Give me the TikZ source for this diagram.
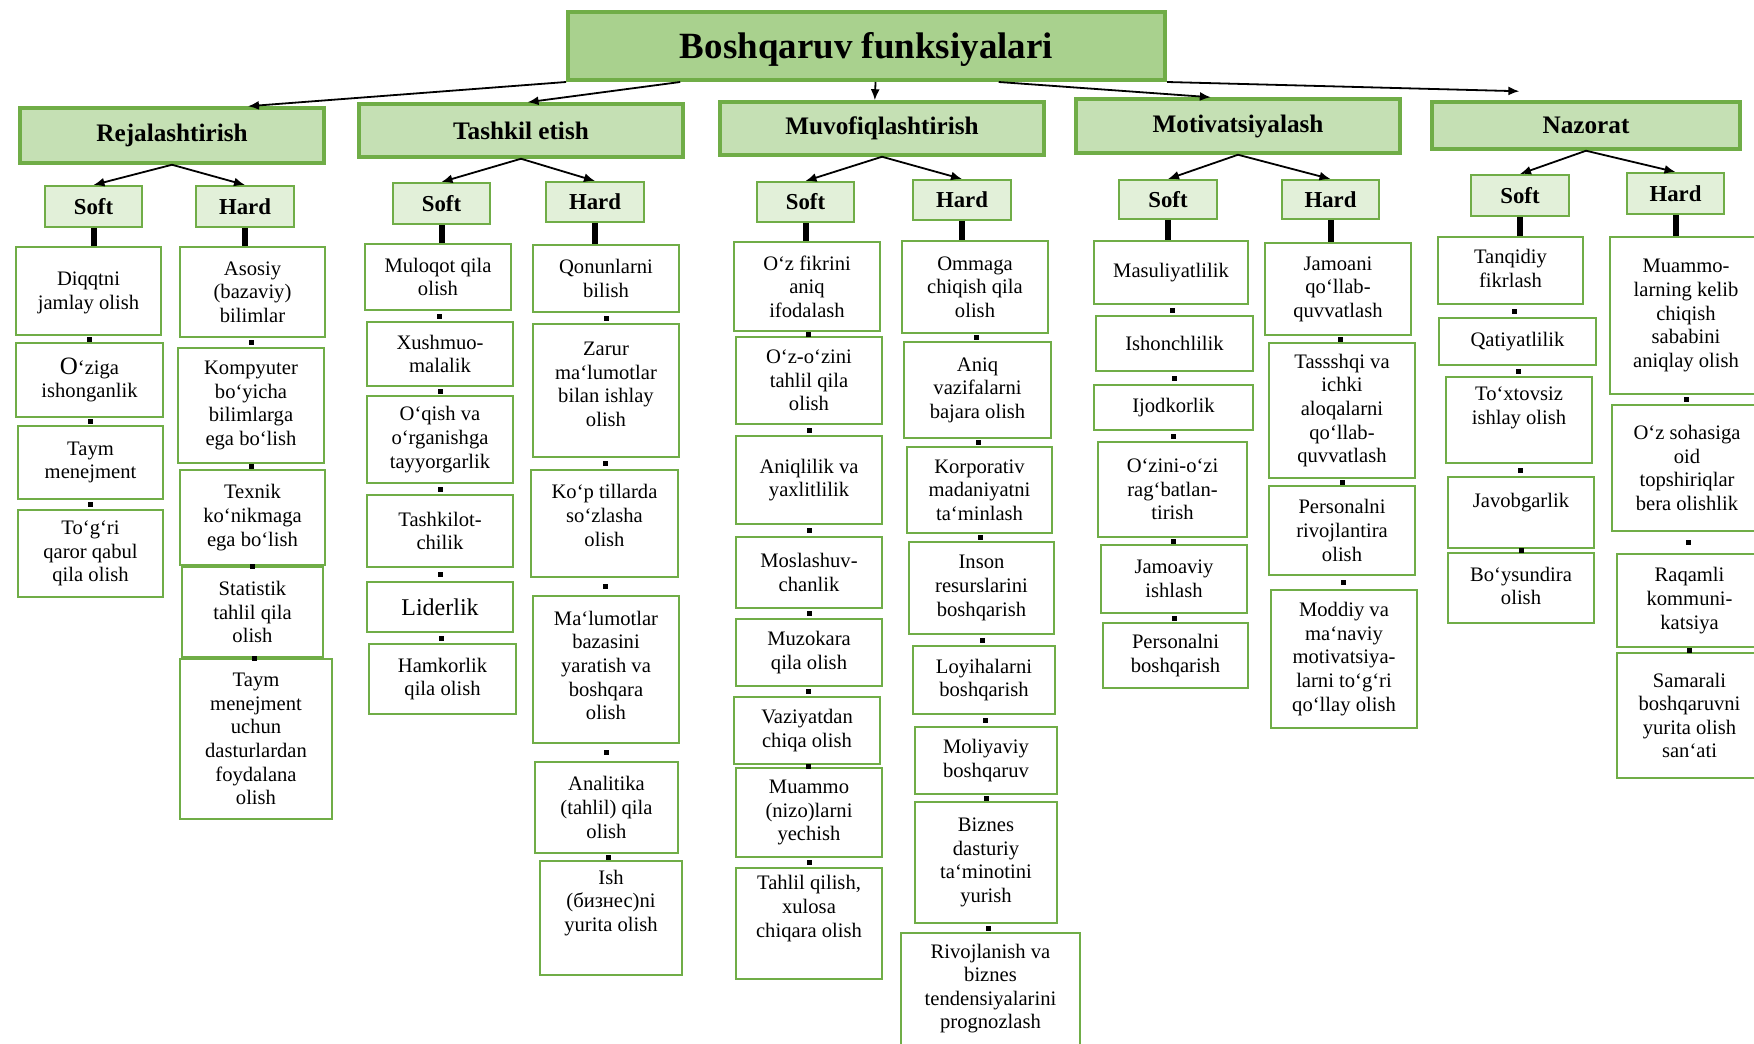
\documentclass[tikz,border=0pt]{standalone}
\usepackage{fontspec}
\setmainfont{Liberation Serif}
\usetikzlibrary{arrows.meta,calc}
\definecolor{gB}{HTML}{70AD47}
\definecolor{gT}{HTML}{A9D18E}
\definecolor{gH}{HTML}{C5E0B4}
\definecolor{gS}{HTML}{E2F0D9}
\tikzset{
 bodybox/.style={draw=gB, line width=1pt, fill=white, inner sep=0pt, rectangle},
 bodytxt/.style={align=center, inner sep=0pt, font=\fontsize{10.3}{11.8}\selectfont},
 headbox/.style={draw=gB, line width=1.75pt, fill=gH, inner sep=0pt, rectangle},
 headtxt/.style={align=center, inner sep=0pt, font=\fontsize{12.6}{14}\selectfont\bfseries},
 skbox/.style={draw=gB, line width=1pt, fill=gS, inner sep=0pt, rectangle},
 sktxt/.style={align=center, inner sep=0pt, font=\fontsize{11.4}{13}\selectfont\bfseries},
 titlebox/.style={draw=gB, line width=2pt, fill=gT, inner sep=0pt, rectangle},
 titletxt/.style={align=center, inner sep=0pt, font=\fontsize{18.5}{20}\selectfont\bfseries},
 arr/.style={-{Latex[length=5.5pt,width=4.5pt]}, line width=0.9pt, black},
 thk/.style={line width=3pt, black},
 sqr/.style={fill=black, minimum size=2.5pt, inner sep=0pt, rectangle},
}
% #1 style prefix, #2 name, #3 x1, #4 y1, #5 x2, #6 y2, #7 text, #8 text shift up (px)
\newcommand\bx[8]{%
 \node[#1box, minimum width={(#5-#3)*0.5pt}, minimum height={(#6-#4)*0.5pt}] (#2) at ({(#3+#5)/2},{(#4+#6)/2}) {};
 \node[#1txt] (#2-t) at ([yshift=#8*0.5pt]#2.center) {#7};
}
\newcommand\sq[2]{\path (#1.south) -- node[sqr] (#1-#2) {} (#2.north);}
\newcommand\thk[2]{\draw[thk] (#1.south) -- (#1.south |- #2.north);}
\begin{document}
\begin{tikzpicture}[x=0.5pt,y=-0.5pt]
\fill[white] (0,0) rectangle (1754,1043);
\useasboundingbox (0,0) rectangle (1754,1043);

% title and headings
\bx{title}{title}{568}{12}{1165}{80}{Boshqaruv funksiyalari}{-3}
\bx{head}{rej}{20}{108}{324}{163}{Rejalashtirish}{0}
\bx{head}{tash}{359}{104}{683}{157}{Tashkil etish}{0}
\bx{head}{muv}{720}{102}{1044}{155}{Muvofiqlashtirish}{0}
\bx{head}{mot}{1076}{99}{1400}{153}{Motivatsiyalash}{0}
\bx{head}{naz}{1432}{102}{1740}{149}{Nazorat}{0}

% soft / hard
\bx{sk}{rejS}{45}{186}{142}{227}{Soft}{0}
\bx{sk}{rejH}{196}{186}{294}{227}{Hard}{0}
\bx{sk}{tashS}{393}{183}{490}{224}{Soft}{0}
\bx{sk}{tashH}{546}{182}{644}{222}{Hard}{0}
\bx{sk}{muvS}{757}{182}{854}{222}{Soft}{0}
\bx{sk}{muvH}{913}{180}{1011}{220}{Hard}{0}
\bx{sk}{motS}{1119}{180}{1217}{219}{Soft}{0}
\bx{sk}{motH}{1282}{180}{1379}{219}{Hard}{0}
\bx{sk}{nazS}{1471}{175}{1569}{216}{Soft}{0}
\bx{sk}{nazH}{1627}{173}{1724}{214}{Hard}{0}

% Rejalashtirish - Soft
\bx{body}{rs1}{16}{247}{161}{335}{Diqqtni\\jamlay olish}{-2}
\bx{body}{rs2}{16}{343}{163}{417}{{\fontsize{12.5}{12}\selectfont O}‘ziga\\ishonganlik}{0}
\bx{body}{rs3}{18}{426}{163}{499}{Taym\\menejment}{0}
\bx{body}{rs4}{18}{510}{163}{597}{To‘g‘ri\\qaror qabul\\qila olish}{0}
% Rejalashtirish - Hard
\bx{body}{rh1}{180}{247}{325}{337}{Asosiy\\(bazaviy)\\bilimlar}{0}
\bx{body}{rh2}{178}{348}{324}{463}{Kompyuter\\bo‘yicha\\bilimlarga\\ega bo‘lish}{0}
\bx{body}{rh3}{180}{470}{325}{565}{Texnik\\ko‘nikmaga\\ega bo‘lish}{0}
\bx{body}{rh4}{182}{567}{323}{657}{Statistik\\tahlil qila\\olish}{0}
\bx{body}{rh5}{180}{659}{332}{819}{Taym\\menejment\\uchun\\dasturlardan\\foydalana\\olish}{0}

% Tashkil etish - Soft
\bx{body}{ts1}{365}{244}{511}{310}{Muloqot qila\\olish}{0}
\bx{body}{ts2}{367}{322}{513}{386}{Xushmuo-\\malalik}{0}
\bx{body}{ts3}{367}{396}{513}{483}{O‘qish va\\o‘rganishga\\tayyorgarlik}{0}
\bx{body}{ts4}{367}{495}{513}{567}{Tashkilot-\\chilik}{0}
\bx{body}{ts5}{367}{582}{513}{632}{{\fontsize{12}{13}\selectfont Liderlik}}{0}
\bx{body}{ts6}{369}{644}{516}{714}{Hamkorlik\\qila olish}{0}
% Tashkil etish - Hard
\bx{body}{th1}{533}{245}{679}{312}{Qonunlarni\\bilish}{0}
\bx{body}{th2}{533}{324}{679}{457}{Zarur\\ma‘lumotlar\\bilan ishlay\\olish}{6}
\bx{body}{th3}{531}{470}{678}{577}{Ko‘p tillarda\\so‘zlasha\\olish}{8}
\bx{body}{th4}{533}{596}{679}{743}{Ma‘lumotlar\\bazasini\\yaratish va\\boshqara\\olish}{4}
\bx{body}{th5}{535}{762}{678}{853}{Analitika\\(tahlil) qila\\olish}{0}
\bx{body}{th6}{540}{861}{682}{975}{Ish\\(бизнес)ni\\yurita olish}{15}

% Muvofiqlashtirish - Soft
\bx{body}{ms1}{734}{242}{880}{331}{O‘z fikrini\\aniq\\ifodalash}{0}
\bx{body}{ms2}{736}{337}{882}{424}{O‘z-o‘zini\\tahlil qila\\olish}{0}
\bx{body}{ms3}{736}{436}{882}{524}{Aniqlilik va\\yaxlitlilik}{0}
\bx{body}{ms4}{736}{537}{882}{608}{Moslashuv-\\chanlik}{0}
\bx{body}{ms5}{736}{619}{882}{686}{Muzokara\\qila olish}{0}
\bx{body}{ms6}{734}{697}{880}{764}{Vaziyatdan\\chiqa olish}{0}
\bx{body}{ms7}{736}{768}{882}{857}{Muammo\\(nizo)larni\\yechish}{0}
\bx{body}{ms8}{736}{868}{882}{979}{Tahlil qilish,\\xulosa\\chiqara olish}{15}
% Muvofiqlashtirish - Hard
\bx{body}{mh1}{902}{241}{1048}{333}{Ommaga\\chiqish qila\\olish}{0}
\bx{body}{mh2}{904}{342}{1051}{438}{Aniq\\vazifalarni\\bajara olish}{0}
\bx{body}{mh3}{907}{447}{1052}{533}{Korporativ\\madaniyatni\\ta‘minlash}{0}
\bx{body}{mh4}{909}{542}{1054}{634}{Inson\\resurslarini\\boshqarish}{0}
\bx{body}{mh5}{913}{646}{1055}{714}{Loyihalarni\\boshqarish}{0}
\bx{body}{mh6}{915}{727}{1057}{794}{Moliyaviy\\boshqaruv}{0}
\bx{body}{mh7}{915}{802}{1057}{923}{Biznes\\dasturiy\\ta‘minotini\\yurish}{0}
\bx{body}{mh8}{901}{933}{1080}{1052}{Rivojlanish va\\biznes\\tendensiyalarini\\prognozlash}{4}

% Motivatsiyalash - Soft
\bx{body}{os1}{1094}{241}{1248}{304}{Masuliyatlilik}{0}
\bx{body}{os2}{1096}{316}{1253}{371}{Ishonchlilik}{0}
\bx{body}{os3}{1094}{385}{1253}{430}{Ijodkorlik}{0}
\bx{body}{os4}{1098}{442}{1247}{537}{O‘zini-o‘zi\\rag‘batlan-\\tirish}{0}
\bx{body}{os5}{1101}{545}{1247}{613}{Jamoaviy\\ishlash}{0}
\bx{body}{os6}{1103}{623}{1248}{688}{Personalni\\boshqarish}{0}
% Motivatsiyalash - Hard
\bx{body}{oh1}{1265}{243}{1411}{335}{Jamoani\\qo‘llab-\\quvvatlash}{0}
\bx{body}{oh2}{1269}{343}{1415}{478}{Tassshqi va\\ichki\\aloqalarni\\qo‘llab-\\quvvatlash}{0}
\bx{body}{oh3}{1269}{486}{1415}{575}{Personalni\\rivojlantira\\olish}{0}
\bx{body}{oh4}{1271}{590}{1417}{728}{Moddiy va\\ma‘naviy\\motivatsiya-\\larni to‘g‘ri\\qo‘llay olish}{0}

% Nazorat - Soft
\bx{body}{ns1}{1438}{237}{1583}{304}{Tanqidiy\\fikrlash}{2}
\bx{body}{ns2}{1439}{318}{1596}{365}{Qatiyatlilik}{0}
\bx{body}{ns3}{1446}{377}{1592}{463}{To‘xtovsiz\\ishlay olish}{12}
\bx{body}{ns4}{1448}{477}{1594}{548}{Javobgarlik}{10}
\bx{body}{ns5}{1448}{553}{1594}{623}{Bo‘ysundira\\olish}{2}
% Nazorat - Hard
\bx{body}{nh1}{1610}{237}{1762}{394}{Muammo-\\larning kelib\\chiqish\\sababini\\aniqlay olish}{0}
\bx{body}{nh2}{1612}{405}{1762}{531}{O‘z sohasiga\\oid\\topshiriqlar\\bera olishlik}{0}
\bx{body}{nh3}{1617}{554}{1762}{647}{Raqamli\\kommuni-\\katsiya}{0}
\bx{body}{nh4}{1617}{653}{1762}{778}{Samarali\\boshqaruvni\\yurita olish\\san‘ati}{0}

% arrows from title
\draw[arr] (title.south west) -- ($(rej.north west)!0.747!(rej.north east)$);
\draw[arr] ($(title.south west)!0.19!(title.south east)$) -- ($(tash.north west)!0.52!(tash.north east)$);
\draw[arr] ($(title.south west)!0.515!(title.south east)$) -- ($(muv.north west)!0.478!(muv.north east)$);
\draw[arr] ($(title.south west)!0.72!(title.south east)$) -- ($(mot.north west)!0.417!(mot.north east)$);
\coordinate (nazin) at ($(naz.north west)!0.286!(naz.north east)+(0,-9)$);
\draw[arr] (title.south east) -- (nazin);

% arrows to soft / hard
\foreach \h in {rej,tash,muv,mot,naz}{
 \draw[arr] (\h.south) -- (\h S.north);
 \draw[arr] (\h.south) -- (\h H.north);
}

% thick links
\thk{rejS}{rs1} \thk{rejH}{rh1}
\thk{tashS}{ts1} \thk{tashH}{th1}
\thk{muvS}{ms1} \thk{muvH}{mh1}
\thk{motS}{os1} \thk{motH}{oh1}
\thk{nazS}{ns1} \thk{nazH}{nh1}

% small square links
\sq{rs1}{rs2} \sq{rs2}{rs3} \sq{rs3}{rs4}
\sq{rh1}{rh2} \sq{rh2}{rh3} \sq{rh3}{rh4} \sq{rh4}{rh5}
\sq{ts1}{ts2} \sq{ts2}{ts3} \sq{ts3}{ts4} \sq{ts4}{ts5} \sq{ts5}{ts6}
\sq{th1}{th2} \sq{th2}{th3} \sq{th3}{th4} \sq{th4}{th5} \sq{th5}{th6}
\sq{ms1}{ms2} \sq{ms2}{ms3} \sq{ms3}{ms4} \sq{ms4}{ms5} \sq{ms5}{ms6} \sq{ms6}{ms7} \sq{ms7}{ms8}
\sq{mh1}{mh2} \sq{mh2}{mh3} \sq{mh3}{mh4} \sq{mh4}{mh5} \sq{mh5}{mh6} \sq{mh6}{mh7} \sq{mh7}{mh8}
\sq{os1}{os2} \sq{os2}{os3} \sq{os3}{os4} \sq{os4}{os5} \sq{os5}{os6}
\sq{oh1}{oh2} \sq{oh2}{oh3} \sq{oh3}{oh4}
\sq{ns1}{ns2} \sq{ns2}{ns3} \sq{ns3}{ns4} \sq{ns4}{ns5}
\sq{nh1}{nh2} \sq{nh2}{nh3} \sq{nh3}{nh4}
\end{tikzpicture}
\end{document}
